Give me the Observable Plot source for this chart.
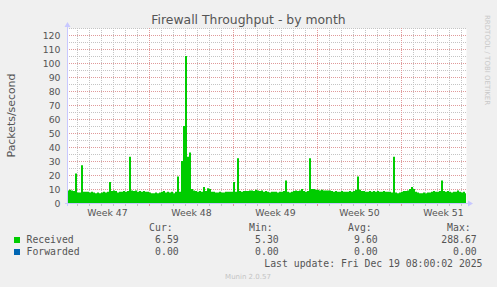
<!DOCTYPE html>
<html>
<head>
<meta charset="utf-8">
<script src="https://cdn.jsdelivr.net/npm/d3@7"></script>
<script src="https://cdn.jsdelivr.net/npm/@observablehq/plot@0.6"></script>
<style>
  html, body { margin: 0; padding: 0; background: #F0F0F0; }
  #chart svg { display: block; }
</style>
</head>
<body>
<div id="chart"></div>
<script>
// ---- data ----
const titleText = "Firewall Throughput - by month";
const yLabel = "Packets/second";
const startTime = Date.UTC(2025, 10, 17, 4);   // left edge of plot
const endTime = Date.UTC(2025, 11, 20, 10);    // right edge of plot
const stepHours = 4;                           // sample spacing
const received = [
  9, 9.5, 9, 8.5, 21, 7.5, 7.5, 27, 8, 8,
  8, 7.5, 8, 7.5, 7, 7.5, 7, 7.5, 8, 7.5,
  8, 15, 8.5, 9, 8.5, 7.5, 8, 8, 8.5, 8,
  8.5, 33, 9, 8.5, 9, 8, 8.5, 8, 8.5, 8,
  8, 7.5, 7, 7, 7.5, 7, 7.5, 8, 8.5, 7.5,
  8, 7.5, 8, 7, 8, 19, 8, 30, 55, 105,
  33, 36, 10, 9, 8.5, 8, 8.5, 8, 11.5, 8.5,
  10.5, 10, 8, 8, 7.5, 7.5, 8, 7.5, 7.5, 8,
  8, 8, 8, 15, 8, 32, 8.5, 8, 8.5, 8.5,
  8.5, 9, 9, 8.5, 9.5, 9, 8.5, 9, 8, 8.5,
  8, 7.5, 8, 8, 8, 7.5, 8, 8, 8.5, 16,
  8, 7.5, 8, 8.5, 9, 8.5, 9, 10, 8.5, 8,
  8.5, 32, 10, 10, 9.5, 9.5, 9, 9.5, 9, 9,
  9, 9, 8.5, 8, 8.5, 8, 8, 8.5, 8, 8,
  8, 8.5, 8, 8.5, 9.5, 19, 9.5, 8.5, 8.5, 8,
  8, 8.5, 8, 8.5, 8, 8.5, 8, 8, 8.5, 8,
  8, 8, 7.5, 33, 7.5, 7, 7.5, 8, 8.5, 8.5,
  9, 10, 11.5, 10, 8, 7.5, 7, 7, 7.5, 7,
  7.5, 7.5, 8, 8.5, 8, 8, 8.5, 16, 8.5, 8,
  8.5, 8, 7.5, 8, 8, 9, 8, 7.5, 8, 7
];
const yTicks = [0, 10, 20, 30, 40, 50, 60, 70, 80, 90, 100, 110, 120];
const yMinor = [5, 15, 25, 35, 45, 55, 65, 75, 85, 95, 105, 115, 125];
const weekStarts = [Date.UTC(2025, 10, 24), Date.UTC(2025, 11, 1), Date.UTC(2025, 11, 8), Date.UTC(2025, 11, 15)];
const weekLabelTimes = [Date.UTC(2025, 10, 20, 12), Date.UTC(2025, 10, 27, 12), Date.UTC(2025, 11, 4, 12), Date.UTC(2025, 11, 11, 12), Date.UTC(2025, 11, 18, 12)];
const weekLabels = ["Week 47", "Week 48", "Week 49", "Week 50", "Week 51"];
const seriesNames = ["Received", "Forwarded"];
const seriesColors = ["#00CC00", "#0066B3"];
const curVals = ["6.59", "0.00"];
const minVals = ["5.30", "0.00"];
const avgVals = ["9.60", "0.00"];
const maxVals = ["288.67", "0.00"];
const lastUpdate = "Last update: Fri Dec 19 08:00:02 2025";
const footer = "Munin 2.0.57";
const watermark = "RRDTOOL / TOBI OETIKER";

// ---- build ----
const H = 3600e3;
const data = received.map((v, i) => ({ t: new Date(startTime + i * stepHours * H), v }));
// close the last step at the end of its sample interval
const areaData = data.concat([{ t: new Date(startTime + received.length * stepHours * H), v: received[received.length - 1] }]);
const dayLines = d3.utcDay.range(new Date(startTime), new Date(endTime));
const weekDates = weekStarts.map(d => new Date(d));
const dayMinor = dayLines.filter(d => !weekStarts.includes(+d));

const plot = Plot.plot({
  width: 497, height: 287,
  marginLeft: 67, marginRight: 31, marginTop: 28, marginBottom: 84,
  style: { fontFamily: "DejaVu Sans", fontSize: "9.33px", background: "transparent", color: "#555" },
  x: { type: "utc", domain: [new Date(startTime), new Date(endTime)] },
  y: { domain: [0, 125] },
  marks: [
    Plot.frame({ fill: "white", stroke: null }),
    Plot.ruleY(yMinor, { stroke: "#c4c4c4", strokeDasharray: "1,1" }),
    Plot.ruleX(dayMinor, { stroke: "#c4c4c4", strokeDasharray: "1,1" }),
    Plot.ruleY(yTicks.filter(d => d > 0), { stroke: "#e09a9a", strokeDasharray: "1,1" }),
    Plot.ruleX(weekDates, { stroke: "#e09a9a", strokeDasharray: "1,1" }),
    Plot.areaY(areaData, { x: "t", y1: 0, y2: "v", curve: "step-after", fill: "#00CC00", clip: true }),
    Plot.axisY({ ticks: yTicks, tickSize: 0, tickPadding: 7, label: null, fill: "#555" }),
    Plot.axisX({ ticks: weekLabelTimes.map(d => new Date(d)), tickFormat: (d, i) => weekLabels[i], tickSize: 0, tickPadding: 6, label: null, fill: "#555" })
  ]
});
document.getElementById("chart").appendChild(plot);

const svg = d3.select(plot);
const xs = plot.scale("x"), ys = plot.scale("y");
const x0 = Math.round(xs.apply(new Date(startTime))), x1 = Math.round(xs.apply(new Date(endTime)));
const y0 = Math.round(ys.apply(0)), yTop = Math.round(ys.apply(125));
const axisColor = "#c8c8ff";

// small ticks below the x axis
dayLines.forEach(d => {
  const xx = Math.round(xs.apply(d)) + 0.5;
  const isWeek = weekStarts.includes(+d);
  svg.append("line").attr("x1", xx).attr("x2", xx).attr("y1", y0 + 0.5).attr("y2", y0 + 3)
    .attr("stroke", isWeek ? "#e09a9a" : "#c4c4c4");
});
// axis lines with arrows
svg.append("line").attr("x1", x0 - 2).attr("x2", x1 + 2).attr("y1", y0 + 0.5).attr("y2", y0 + 0.5).attr("stroke", axisColor);
svg.append("path").attr("d", `M${x1 + 2},${y0 - 2.5}L${x1 + 7},${y0 + 0.5}L${x1 + 2},${y0 + 3.5}Z`).attr("fill", axisColor);
svg.append("line").attr("x1", x0 + 0.5).attr("x2", x0 + 0.5).attr("y1", y0 + 3).attr("y2", yTop - 2).attr("stroke", axisColor);
svg.append("path").attr("d", `M${x0 - 2.5},${yTop - 1}L${x0 + 0.5},${yTop - 6}L${x0 + 3.5},${yTop - 1}Z`).attr("fill", axisColor);

function txt(x, y, s, anchor, family, size, fill) {
  return svg.append("text").attr("x", x).attr("y", y).attr("text-anchor", anchor)
    .attr("font-family", family).attr("font-size", size).attr("fill", fill).text(s);
}
// title
txt(248.5, 24, titleText, "middle", "DejaVu Sans", "12.4px", "#555");
// y label
svg.append("text").attr("transform", `translate(15,${(y0 + yTop) / 2}) rotate(-90)`).attr("text-anchor", "middle")
  .attr("font-family", "DejaVu Sans").attr("font-size", "10.9px").attr("fill", "#555").text(yLabel);
// watermark
svg.append("text").attr("transform", "translate(484.5,15) rotate(90)").attr("text-anchor", "start")
  .attr("font-family", "DejaVu Sans").attr("font-size", "7px").attr("fill", "#c8c8c8").text(watermark);

// legend
const mono = "DejaVu Sans Mono";
const lf = "9.8px";
const colRight = [178.7, 278.7, 377.7, 476.7];
const headers = ["Cur:", "Min:", "Avg:", "Max:"];
headers.forEach((h, j) => txt(colRight[j] - 6, 231, h, "end", mono, lf, "#555"));
seriesNames.forEach((n, i) => {
  const by = 243 + i * 12;
  svg.append("rect").attr("x", 14).attr("y", by - 6).attr("width", 6).attr("height", 6).attr("fill", seriesColors[i]);
  txt(26.5, by, n, "start", mono, lf, "#555");
  [curVals[i], minVals[i], avgVals[i], maxVals[i]].forEach((v, j) => txt(colRight[j], by, v, "end", mono, lf, "#555"));
});
txt(482.5, 267, lastUpdate, "end", mono, lf, "#555");
txt(248, 279, footer, "middle", "DejaVu Sans", "7px", "#c4c4c4");
</script>
</body>
</html>
